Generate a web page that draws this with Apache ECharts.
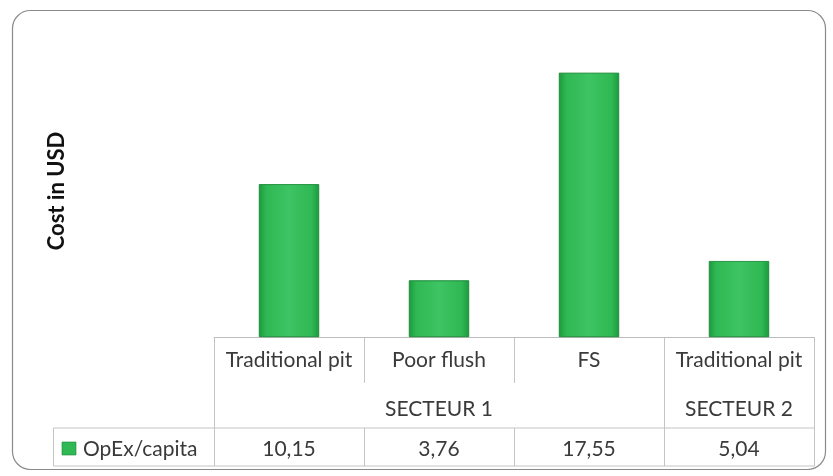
<!DOCTYPE html>
<html><head><meta charset="utf-8">
<script src="https://cdn.jsdelivr.net/npm/echarts@6/dist/echarts.min.js"></script>
<style>html,body{margin:0;padding:0;background:#fff}#c{width:833px;height:476px}</style>
</head><body><div id="c"></div>
<script>
const categories = ['Traditional pit', 'Poor flush', 'FS', 'Traditional pit'];
const sectors = [{name: 'SECTEUR 1', from: 0, to: 2}, {name: 'SECTEUR 2', from: 3, to: 3}];
const seriesName = 'OpEx/capita';
const values = [10.15, 3.76, 17.55, 5.04];
const yTitle = 'Cost in USD';

const FONT = 'Lato, "Open Sans", sans-serif';
const FS = 21;
const chart = echarts.init(document.getElementById('c'));
const barColor = new echarts.graphic.LinearGradient(0, 0, 1, 0, [
  {offset: 0, color: '#1c9a3e'}, {offset: 0.12, color: '#2fb853'},
  {offset: 0.5, color: '#3ec463'}, {offset: 0.88, color: '#2fb853'}, {offset: 1, color: '#1c9a3e'}
]);
chart.setOption({
  animation: false,
  grid: {left: 214, right: 19, top: 36, bottom: 139},
  xAxis: {
    type: 'category', data: categories,
    axisLine: {show: true, lineStyle: {color: '#bdbdbd', width: 1}},
    axisTick: {show: false},
    axisLabel: {interval: 0, hideOverlap: false, margin: 13, fontFamily: FONT, fontSize: FS, color: '#3a3a3a'}
  },
  yAxis: {type: 'value', min: 0, max: 20, show: false, splitLine: {show: false}},
  series: [{
    type: 'bar', name: seriesName, data: values, barWidth: '40%',
    itemStyle: {color: barColor, borderColor: '#178a35', borderWidth: 0.6}
  }]
});

function build() {
  const g = [];
  const x0 = chart.convertToPixel({gridIndex: 0}, [0, 0]);
  const base = x0[1];
  const n = categories.length;
  const cx = categories.map((c, i) => chart.convertToPixel({xAxisIndex: 0}, i));
  const step = cx[1] - cx[0];
  const edges = [];
  for (let i = 0; i <= n; i++) edges.push(Math.round(cx[0] - step / 2 + i * step) + 0.5);
  const left = edges[0], right = edges[n];
  const row1 = base + 46, rowData = base + 91, bottom = base + 129, legLeft = 53.5;
  const lc = '#c4c4c4';
  const line = (x1, y1, x2, y2) => g.push({type: 'line', shape: {x1, y1, x2, y2}, style: {stroke: lc, lineWidth: 1}, silent: true});
  line(legLeft, rowData, right, rowData);
  line(legLeft, bottom, right, bottom);
  line(legLeft, rowData, legLeft, bottom);
  line(left, base, left, bottom);
  line(right, base, right, bottom);
  const sectorEdges = new Set();
  sectors.forEach(s => { sectorEdges.add(s.from); });
  for (let i = 1; i < n; i++) {
    if (sectorEdges.has(i)) line(edges[i], base, edges[i], bottom);
    else { line(edges[i], base, edges[i], row1); line(edges[i], rowData, edges[i], bottom); }
  }
  sectors.forEach(s => {
    const mid = (cx[s.from] + cx[s.to]) / 2;
    g.push({type: 'text', x: mid, y: base + 72, style: {text: s.name, font: FS + 'px ' + FONT, fill: '#3a3a3a', textAlign: 'center', textVerticalAlign: 'middle'}});
  });
  values.forEach((v, i) => {
    g.push({type: 'text', x: cx[i], y: base + 112, style: {text: v.toFixed(2).replace('.', ','), font: FS + 'px ' + FONT, fill: '#3a3a3a', textAlign: 'center', textVerticalAlign: 'middle'}});
  });
  g.push({type: 'rect', shape: {x: 62, y: base + 105, width: 14, height: 13}, style: {fill: '#2fb853', stroke: '#178a35', lineWidth: 0.6}});
  g.push({type: 'text', x: 83, y: base + 112, style: {text: seriesName, font: FS + 'px ' + FONT, fill: '#3a3a3a', textAlign: 'left', textVerticalAlign: 'middle'}});
  g.push({type: 'text', x: 57, y: 191, rotation: Math.PI / 2, style: {text: yTitle, font: 'bold 22px ' + FONT, fill: '#111', textAlign: 'center', textVerticalAlign: 'middle'}});
  g.push({type: 'rect', shape: {x: 12.5, y: 10.5, width: 813, height: 459, r: 18}, style: {fill: 'none', stroke: '#8a8a8a', lineWidth: 1.2}, silent: true});
  chart.setOption({graphic: g});
}
build();
</script></body></html>
